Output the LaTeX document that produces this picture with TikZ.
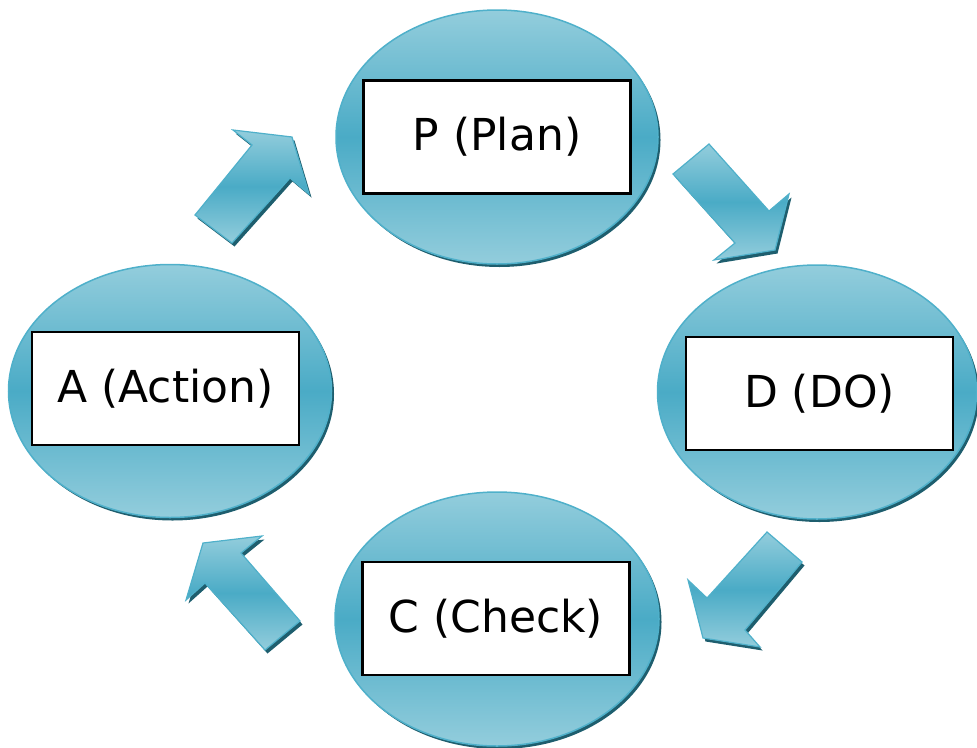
\documentclass[tikz,border=0pt]{standalone}
\usepackage{fontspec}
\setmainfont{DejaVu Sans}
\usetikzlibrary{shapes.geometric,shadows}
\definecolor{tealLight}{HTML}{93CDDC}
\definecolor{tealMid}{HTML}{4AABC6}
\definecolor{tealEdge}{HTML}{4FB0CA}
\definecolor{tealShadow}{HTML}{1E5E6E}
\tikzset{
  blob/.style={ellipse, draw=tealEdge, line width=1.5pt,
    top color=tealLight, bottom color=tealLight, middle color=tealMid,
    drop shadow={shadow xshift=2.5pt, shadow yshift=-3pt, fill=tealShadow, opacity=1}},
  labelbox/.style={rectangle, draw=black, line width=2.2pt, fill=white,
    minimum width=267pt, minimum height=113pt, inner sep=0pt,
    font=\fontsize{44}{50}\selectfont},
  blockarrow/.style={draw=tealEdge, line width=1.2pt, line join=miter,
    top color=tealLight, bottom color=tealLight, middle color=tealMid,
    drop shadow={shadow xshift=2.5pt, shadow yshift=-3.5pt, fill=tealShadow, opacity=1}}
}
\begin{document}
\begin{tikzpicture}[x=1pt,y=-1pt]
\useasboundingbox (0,0) rectangle (977,747);
% ellipses
\node[blob, minimum width=322pt, minimum height=254pt] (eP) at (497,137) {};
\node[blob, minimum width=323pt, minimum height=253pt] (eA) at (170,391) {};
\node[blob, minimum width=319pt, minimum height=254pt] (eD) at (817,392) {};
\node[blob, minimum width=324pt, minimum height=254pt] (eC) at (497,619) {};
% label boxes
\node[labelbox] (P) at (eP.center) {P (Plan)};
\node[labelbox] (A) at (165.5,388.5) {A (Action)};
\node[labelbox] (D) at (819.5,393.5) {D (DO)};
\node[labelbox] (C) at (496,618.5) {C (Check)};
% block arrows
\path[blockarrow] (195,215) -- (232,243) -- (290,178) -- (309,194) -- (292,137)
  -- (233,130) -- (252,145) -- cycle;
\path[blockarrow] (673,174) -- (709,144) -- (769,211) -- (789,194) -- (775,250)
  -- (714,260) -- (735,243) -- cycle;
\path[blockarrow] (767,532) -- (802,562) -- (745,630) -- (760,647) -- (703,638)
  -- (688,580) -- (707,598) -- cycle;
\path[blockarrow] (300,621) -- (265,650) -- (205,583) -- (186,600) -- (203,543)
  -- (262,536) -- (241,553) -- cycle;
\end{tikzpicture}
\end{document}
